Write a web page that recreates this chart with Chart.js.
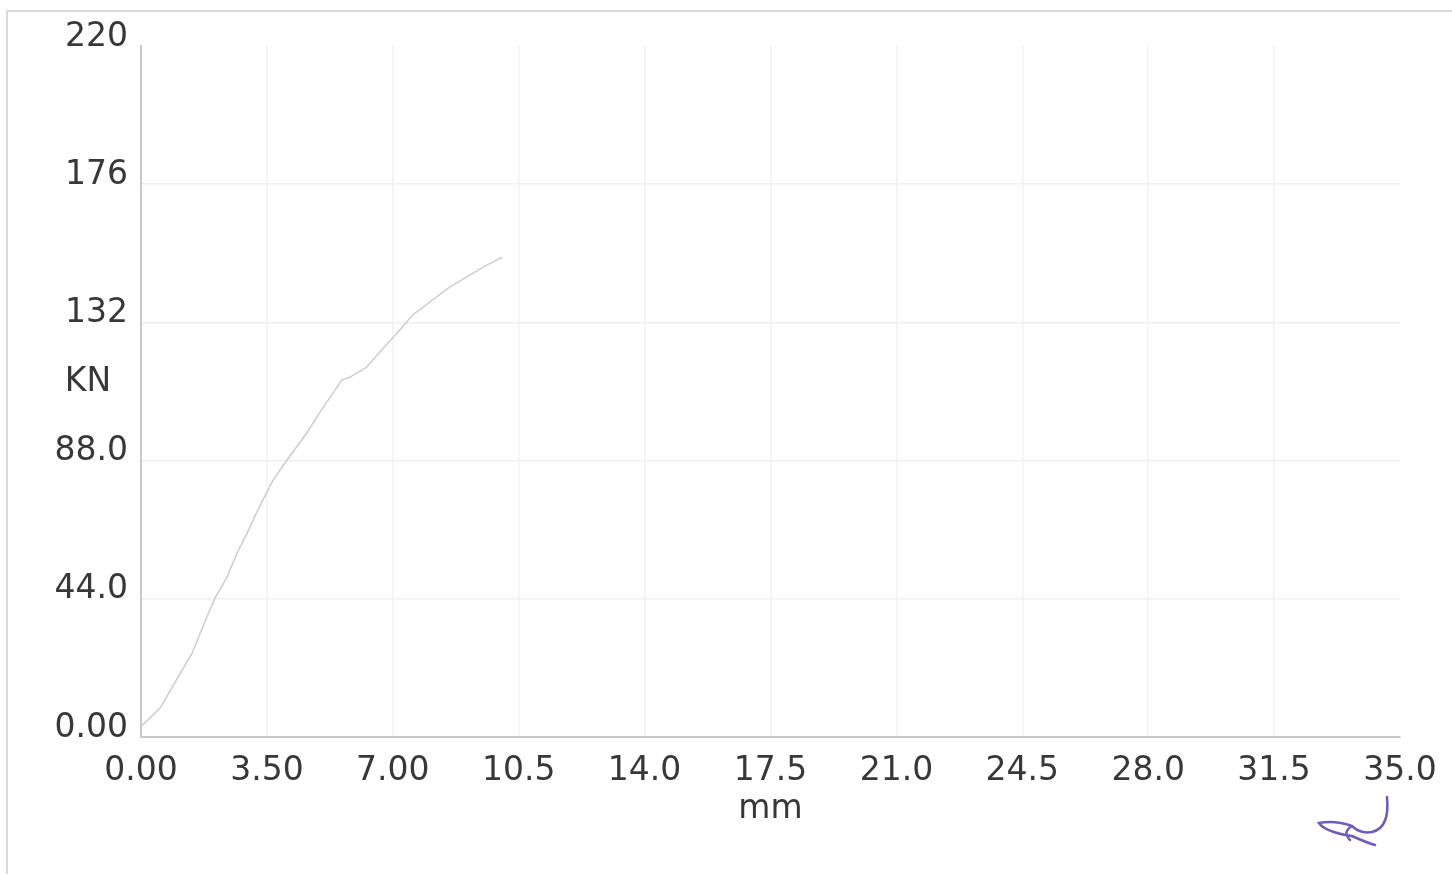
<!DOCTYPE html>
<html>
<head>
<meta charset="utf-8">
<script src="https://cdn.jsdelivr.net/npm/chart.js@4"></script>
<style>
  html, body { margin: 0; padding: 0; background: #fff; }
  #frame { position: absolute; left: 6px; top: 10px; width: 1446px; height: 862px;
           border-left: 2px solid #dcdcdc; border-top: 2px solid #dcdcdc; }
  #wrap { position: absolute; left: 0; top: 0; width: 1452px; height: 877px; }
</style>
</head>
<body>
<div id="frame"></div>
<div id="wrap"><canvas id="chart-load"></canvas></div>
<script>
// displacement (mm) and load (KN)
const displacement = [0, 0.53, 1.03, 1.42, 1.83, 2.06, 2.39, 2.67, 2.95, 3.22, 3.67, 4.06, 4.61, 4.98,
  5.59, 5.81, 6.28, 6.64, 7.12, 7.56, 8.03, 8.59, 9.06, 9.51, 10.04];
const load = [3.3, 9.2, 19.1, 26.7, 38.2, 44.3, 50.9, 58.6, 64.9, 71.6, 81.8, 88.2, 96.8, 103.5,
  113.7, 114.6, 117.8, 122.6, 128.6, 134.4, 138.5, 143.3, 146.5, 149.6, 152.8];

const xTickLabels = ["0.00", "3.50", "7.00", "10.5", "14.0", "17.5", "21.0", "24.5", "28.0", "31.5", "35.0"];
const yTickLabels = ["0.00", "44.0", "88.0", "132", "176", "220"];

const textColor = "#383838";
const fontFamily = "'DejaVu Sans', sans-serif";

// horizontal "KN" label beside the y axis
const yLabelPlugin = {
  id: "yLabel",
  afterDraw(chart) {
    const ctx = chart.ctx;
    const area = chart.chartArea;
    ctx.save();
    ctx.font = "33px " + fontFamily;
    ctx.fillStyle = textColor;
    ctx.textAlign = "center";
    ctx.textBaseline = "middle";
    ctx.fillText("KN", 88, (area.top + area.bottom) / 2 - 9);
    ctx.restore();
  }
};

// pen signature at the lower right
const signaturePlugin = {
  id: "signature",
  afterDraw(chart) {
    const ctx = chart.ctx;
    ctx.save();
    ctx.strokeStyle = "#6b5cc0";
    ctx.lineWidth = 2.5;
    ctx.lineCap = "round";
    ctx.beginPath();
    ctx.moveTo(1387, 797);
    ctx.quadraticCurveTo(1390, 828, 1372, 832);
    ctx.quadraticCurveTo(1360, 834, 1352, 826);
    ctx.quadraticCurveTo(1335, 820, 1319, 823);
    ctx.quadraticCurveTo(1325, 832, 1352, 836);
    ctx.quadraticCurveTo(1365, 842, 1375, 845);
    ctx.moveTo(1352, 826);
    ctx.quadraticCurveTo(1342, 832, 1350, 840);
    ctx.stroke();
    ctx.restore();
  }
};

new Chart(document.getElementById("chart-load"), {
  type: "line",
  data: {
    datasets: [{
      data: displacement.map((x, i) => ({ x: x, y: load[i] })),
      borderColor: "#cdcdcd",
      borderWidth: 1.5,
      pointRadius: 0,
      tension: 0,
      fill: false
    }]
  },
  options: {
    responsive: true,
    maintainAspectRatio: false,
    animation: false,
    layout: { padding: { left: 0, top: 46, right: 52, bottom: 0 } },
    plugins: {
      legend: { display: false },
      tooltip: { enabled: false }
    },
    scales: {
      x: {
        type: "linear",
        min: 0,
        max: 35,
        afterFit: scale => { scale.height = 140; },
        border: { color: "#c8c8c8", width: 2 },
        grid: {
          drawTicks: false,
          color: ctx => (ctx.index === 0 || ctx.index === xTickLabels.length - 1) ? "rgba(0,0,0,0)" : "#f2f2f2",
          lineWidth: 1.5
        },
        ticks: {
          stepSize: 3.5,
          maxRotation: 0,
          autoSkip: false,
          padding: 15,
          color: textColor,
          font: { family: fontFamily, size: 33 },
          callback: (v, i) => xTickLabels[i]
        },
        title: {
          display: true,
          text: "mm",
          color: textColor,
          font: { family: fontFamily, size: 33 },
          padding: { top: 0, bottom: 48 }
        }
      },
      y: {
        type: "linear",
        min: 0,
        max: 220,
        afterFit: scale => { scale.width = 141; },
        border: { color: "#c8c8c8", width: 2 },
        grid: {
          drawTicks: false,
          color: ctx => (ctx.index === 0 || ctx.index === yTickLabels.length - 1) ? "rgba(0,0,0,0)" : "#f0f0f0",
          lineWidth: 1.5
        },
        ticks: {
          stepSize: 44,
          padding: 13,
          color: textColor,
          font: { family: fontFamily, size: 33, lineHeight: "18px" },
          callback: (v, i) => [yTickLabels[i], ""]
        }
      }
    }
  },
  plugins: [yLabelPlugin, signaturePlugin]
});
</script>
</body>
</html>
